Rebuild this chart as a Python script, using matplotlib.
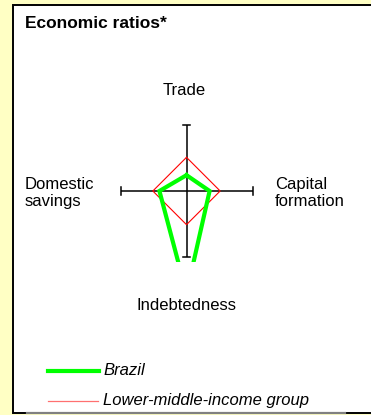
import numpy as np
from matplotlib import pyplot as plt
from matplotlib.patches import Rectangle
from matplotlib.lines import Line2D

# chart data
categories = ['Trade', 'Capital\nformation', 'Indebtedness', 'Domestic\nsavings']
series_names = ['Brazil', 'Lower-middle-income group']
brazil = [0.24, 0.35, 1.55, 0.41]
group = [0.51, 0.51, 0.51, 0.51]

W, H = 371, 415
plt.rcParams['font.family'] = ['Liberation Sans', 'DejaVu Sans']


def fx(px):
    return px / W


def fy(py):
    return 1 - py / H


fig = plt.figure(figsize=(W / 100, H / 100), dpi=100)
fig.patch.set_facecolor('#FFFFC4')

# white panel with border (behind the radar axes)
fig.add_artist(Rectangle((fx(13), fy(413)), fx(W + 5) - fx(13), fy(5) - fy(413),
                         facecolor='white', edgecolor='black', linewidth=1.4, zorder=-2))
fig.add_artist(Line2D([fx(27), fx(345)], [fy(413), fy(413)], color='#808080',
                      linewidth=1.6, zorder=-1))

fig.text(fx(25), fy(28), 'Economic ratios*', fontsize=12.5, fontweight='bold', va='baseline')

# radar area (center 186.5, 191, radius 66 px)
left, right, top, bottom = 116, 257, 120, 262
ax = fig.add_axes([fx(left), fy(bottom), fx(right) - fx(left), fy(top) - fy(bottom)])
ax.set_zorder(2)
ax.patch.set_alpha(0)
ax.set_xlim(-70.5 / 66, 70.5 / 66)
ax.set_ylim(-71 / 66, 71 / 66)
ax.axis('off')

angles = np.deg2rad([90, 0, -90, 180])
cap = 0.055
for a in angles:
    ca, sa = np.cos(a), np.sin(a)
    ax.plot([0, ca], [0, sa], color='black', linewidth=1.1, solid_capstyle='butt')
    ax.plot([ca - cap * sa, ca + cap * sa], [sa - cap * ca, sa + cap * ca],
            color='black', linewidth=1.1)


def closed(vals):
    v = np.array(vals + vals[:1])
    a = np.concatenate([angles, angles[:1]])
    return v * np.cos(a), v * np.sin(a)


gx, gy = closed(group)
ax.plot(gx, gy, color='#FF0000', linewidth=0.8, zorder=3)
bx, by = closed(brazil)
ax.plot(bx, by, color='#00FF00', linewidth=3.0, zorder=4, solid_joinstyle='miter')

# category labels
fs = 12
fig.text(fx(184), fy(95), categories[0], fontsize=fs, ha='center', va='baseline')
fig.text(fx(275), fy(193), categories[1], fontsize=fs, ha='left', va='center', linespacing=1.2)
fig.text(fx(186), fy(310), categories[2], fontsize=fs, ha='center', va='baseline')
fig.text(fx(25), fy(193), categories[3], fontsize=fs, ha='left', va='center', linespacing=1.2)

# legend
fig.add_artist(Line2D([fx(48), fx(99)], [fy(370.5), fy(370.5)], color='#00FF00', linewidth=3.0))
fig.text(fx(103), fy(375), series_names[0], fontsize=12, style='italic', va='baseline')
fig.add_artist(Line2D([fx(48), fx(98)], [fy(400.5), fy(400.5)], color='#FF7070', linewidth=0.9))
fig.text(fx(103), fy(405), series_names[1], fontsize=12, style='italic', va='baseline')

plt.savefig('out.png', dpi=100, facecolor=fig.get_facecolor())
